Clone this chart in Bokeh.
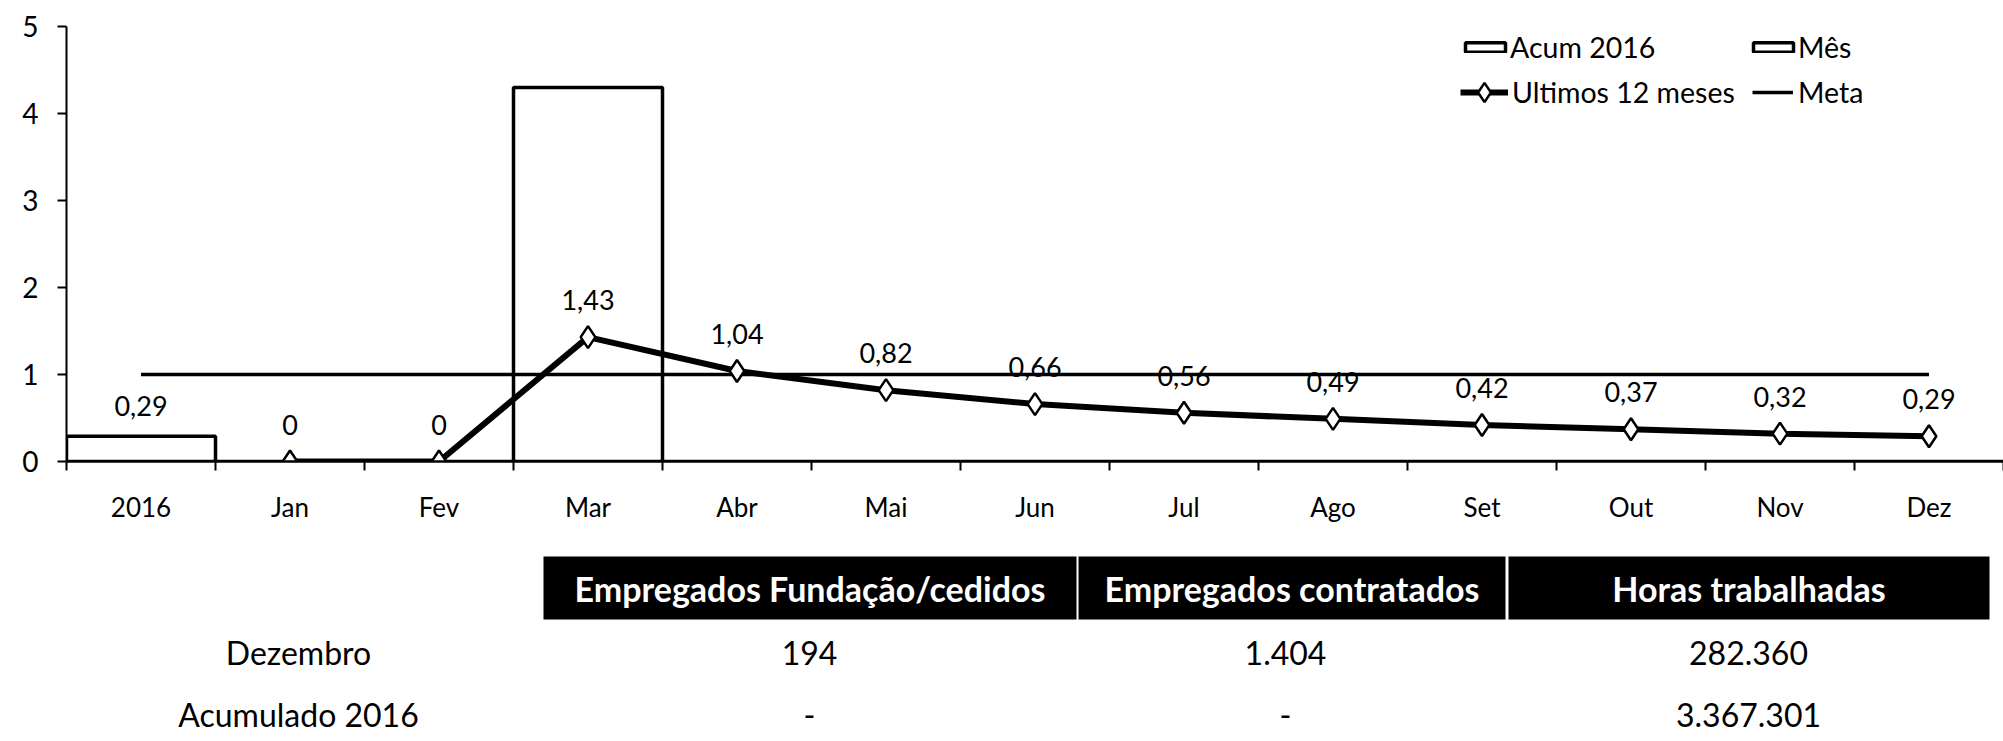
from bokeh.plotting import figure
from bokeh.models import ColumnDataSource, Range1d, FixedTicker, LabelSet, Legend, LegendItem
from bokeh.layouts import column
from bokeh.core.properties import value
from bokeh.embed import file_html
from bokeh.resources import INLINE

# ---------------- data ----------------
categories = ["2016", "Jan", "Fev", "Mar", "Abr", "Mai", "Jun", "Jul", "Ago", "Set", "Out", "Nov", "Dez"]
acum_2016 = [0.29]                                   # bar at "2016"
mes = [0, 0, 4.3, 0, 0, 0, 0, 0, 0, 0, 0, 0]         # Jan..Dez
ultimos_12 = [0, 0, 1.43, 1.04, 0.82, 0.66, 0.56, 0.49, 0.42, 0.37, 0.32, 0.29]  # Jan..Dez
meta = [1, 1, 1, 1, 1, 1, 1, 1, 1, 1, 1, 1, 1]      # 2016..Dez
y_ticks = [0, 1, 2, 3, 4, 5]

table_header = ["Empregados Fundação/cedidos", "Empregados contratados", "Horas trabalhadas"]
table_row_labels = ["Dezembro", "Acumulado 2016"]
table_dezembro = ["194", "1.404", "282.360"]
table_acumulado = ["-", "-", "3.367.301"]

FONT = value("Lato")


def fmt(v):
    return "0" if v == 0 else f"{v:.2f}".replace(".", ",")


pos = {c: i + 1 for i, c in enumerate(categories)}
month_cats = categories[1:]

W = 2003
H1 = 530
LEFT = 66
p = figure(width=W, height=H1, x_range=Range1d(0.5, len(categories) + 0.5), y_range=Range1d(0, 5),
           output_backend="svg", toolbar_location=None,
           min_border_left=LEFT, min_border_right=0, min_border_top=26, min_border_bottom=69)
p.grid.visible = False
p.outline_line_color = None

# bars
src_acum = ColumnDataSource(dict(x=[pos["2016"]], top=acum_2016, label=[fmt(v) for v in acum_2016]))
r_acum = p.vbar(x="x", top="top", bottom=0, width=1.0, source=src_acum,
                fill_color="white", line_color="black", line_width=3.5)
src_mes = ColumnDataSource(dict(x=[pos[c] for c in month_cats], top=mes))
r_mes = p.vbar(x="x", top="top", bottom=0, width=1.0, source=src_mes,
               fill_color="white", line_color="black", line_width=3.5)

# meta line
src_meta = ColumnDataSource(dict(x=[pos[c] for c in categories], y=meta))
r_meta = p.line(x="x", y="y", source=src_meta, line_color="black", line_width=3.5)

# ultimos 12 meses
src_ult = ColumnDataSource(dict(x=[pos[c] for c in month_cats], y=ultimos_12,
                                label=[fmt(v) for v in ultimos_12]))
r_ult_line = p.line(x="x", y="y", source=src_ult, line_color="black", line_width=6)
r_ult_pts = p.scatter(x="x", y="y", source=src_ult, marker="diamond", size=22,
                      fill_color="white", line_color="black", line_width=2.5)

p.add_layout(LabelSet(x="x", y="y", text="label", source=src_ult, y_offset=37,
                      text_align="center", text_baseline="middle", text_font=FONT,
                      text_font_size="27px", text_color="black"))
p.add_layout(LabelSet(x="x", y="top", text="label", source=src_acum, y_offset=30,
                      text_align="center", text_baseline="middle", text_font=FONT,
                      text_font_size="27px", text_color="black"))

# axes
xa = p.xaxis[0]
xa.ticker = FixedTicker(ticks=[pos[c] for c in categories],
                        minor_ticks=[i + 0.5 for i in range(len(categories) + 1)])
xa.major_label_overrides = {pos[c]: c for c in categories}
xa.major_tick_in = 0
xa.major_tick_out = 0
xa.minor_tick_in = 0
xa.minor_tick_out = 9
xa.minor_tick_line_color = "black"
xa.minor_tick_line_width = 2
xa.axis_line_color = "black"
xa.axis_line_width = 2.5
xa.major_label_standoff = 20
xa.major_label_text_font = "Lato"
xa.major_label_text_font_size = "26px"
xa.major_label_text_color = "black"

ya = p.yaxis[0]
ya.ticker = FixedTicker(ticks=y_ticks)
ya.minor_tick_line_color = None
ya.major_tick_in = 0
ya.major_tick_out = 9
ya.major_tick_line_color = "black"
ya.major_tick_line_width = 2
ya.axis_line_color = "black"
ya.axis_line_width = 2
ya.major_label_standoff = 19
ya.major_label_text_font = "Lato"
ya.major_label_text_font_size = "28px"
ya.major_label_text_color = "black"


def make_legend(label, renderers, loc, gw, gh, standoff):
    lg = Legend(items=[LegendItem(label=label, renderers=renderers)], location=loc,
                glyph_width=gw, glyph_height=gh, label_height=gh, label_standoff=standoff,
                padding=0, margin=0, spacing=0, border_line_color=None, background_fill_alpha=0,
                label_text_font="Lato", label_text_font_size="28.5px", label_text_color="black")
    p.add_layout(lg, "center")


make_legend("Acum 2016", [r_acum], (1394, 397), 50, 12, 0)
make_legend("Mês", [r_mes], (1682, 397), 50, 12, 0)
make_legend("Ultimos 12 meses", [r_ult_line, r_ult_pts], (1394, 345), 48, 48, 4)
make_legend("Meta", [r_meta], (1686, 352), 41, 12, 5)

# ---------------- table ----------------
H2 = 209
t = figure(width=W, height=H2, x_range=Range1d(LEFT, W), y_range=Range1d(H1 + H2, H1),
           output_backend="svg", toolbar_location=None, min_border=0,
           min_border_left=LEFT, min_border_right=0,
           x_axis_type=None, y_axis_type=None)
t.grid.visible = False
t.outline_line_color = None

col_left = [543, 1078, 1508]
col_right = [1076, 1505, 1989]
head_top, head_bottom = 556, 619
value_x = [809, 1285, 1748]
row_y = [652, 714]
row_label_x = 298

t.quad(left=col_left, right=col_right, top=[head_top] * 3, bottom=[head_bottom] * 3,
       fill_color="black", line_color=None)
t.text(x=[(l + r) / 2 for l, r in zip(col_left, col_right)], y=[(head_top + head_bottom) / 2] * 3,
       text=table_header, text_color="white", text_font=FONT, text_font_style="bold",
       text_font_size="34px", text_align="center", text_baseline="middle")
t.text(x=[row_label_x] * 2, y=row_y, text=table_row_labels, text_color="black", text_font=FONT,
       text_font_size="32px", text_align="center", text_baseline="middle")
for vals, yy in zip([table_dezembro, table_acumulado], row_y):
    t.text(x=value_x, y=[yy] * 3, text=vals, text_color="black", text_font=FONT,
           text_font_size="32px", text_align="center", text_baseline="middle")

layout = column(p, t, spacing=0)
open("out.html", "w").write(file_html(layout, INLINE))
